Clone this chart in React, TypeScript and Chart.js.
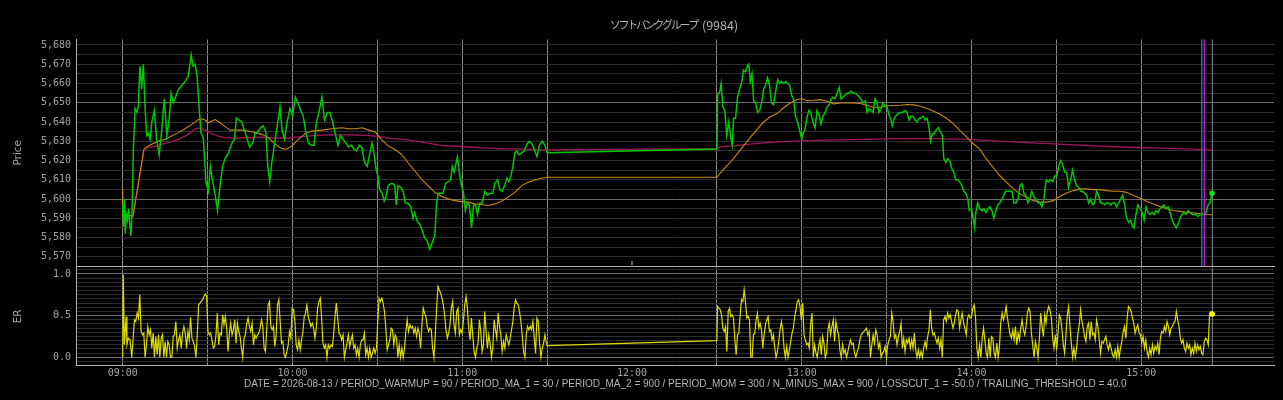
import { useEffect, useRef } from "react";
import { Chart, registerables } from "chart.js";

Chart.register(...registerables);

// ---------- text ----------
const TITLE_NAME = "ソフトバンクグループ";
const TITLE_CODE = " (9984)";
const FOOTER_TEXT =
  "DATE = 2026-08-13 / PERIOD_WARMUP = 90 / PERIOD_MA_1 = 30 / PERIOD_MA_2 = 900 / PERIOD_MOM = 300 / N_MINUS_MAX = 900 / LOSSCUT_1 = -50.0 / TRAILING_THRESHOLD = 40.0";
const PRICE_TITLE = "Price";
const ER_TITLE = "ER";

// ---------- axes (x = minutes after 09:00) ----------
const X_RANGE = [-16.5, 406.9];
const PRICE_RANGE = [5565.26, 5682.84];
const ER_RANGE = [-0.096, 1.078];
const HIDDEN_GRID_TIMES = [180, 390];
const LUNCH_TICK_T = 180;
const SESSION_END_T = 385.1;
const BLUE_SIGNAL_T = 381.35;
const MAGENTA_SIGNAL_T = 382.3;

// ---------- price [minute, yen] ----------
const PRICE_AM: [number, number][] = [
  [0, 5597], [0.3, 5586], [0.6, 5600], [0.9, 5582], [1.3, 5592], [1.7, 5589], [2.1, 5595], [2.5, 5587], [2.9, 5581], [3.3, 5593],
  [3.8, 5627], [4.4, 5647], [5.0, 5645], [5.5, 5648], [6.1, 5669], [6.7, 5657], [7.3, 5670], [7.9, 5648], [8.5, 5633], [9.1, 5634],
  [9.7, 5631], [10.3, 5640], [11.2, 5646], [12.0, 5631], [12.9, 5623], [13.8, 5636], [14.7, 5652], [15.6, 5633], [16.4, 5641], [17.1, 5655],
  [17.9, 5650], [18.7, 5653], [19.7, 5657], [20.9, 5659], [22.0, 5661], [23.2, 5664], [24.2, 5675], [24.9, 5669], [25.6, 5670], [26.3, 5664],
  [27.0, 5648], [27.7, 5634], [28.5, 5632], [29.4, 5609], [30.3, 5604], [31.0, 5617], [31.7, 5610], [32.7, 5602], [33.5, 5594], [34.4, 5607],
  [35.3, 5617], [36.2, 5621], [37.4, 5624], [38.6, 5629], [39.5, 5631], [40.2, 5642], [41.2, 5641], [42.1, 5640], [43.0, 5636], [44.0, 5631],
  [44.9, 5627], [45.9, 5629], [46.8, 5634], [47.8, 5635], [48.7, 5637], [49.6, 5638], [50.6, 5635], [51.3, 5617], [52.0, 5609], [52.7, 5619],
  [53.7, 5629], [54.6, 5638], [55.6, 5648], [56.3, 5636], [57.2, 5631], [58.1, 5640], [59.1, 5647], [60.1, 5643], [61.0, 5653], [62.0, 5650],
  [62.9, 5646], [63.8, 5643], [64.8, 5634], [65.7, 5629], [66.6, 5628], [67.6, 5628], [68.5, 5640], [69.5, 5646], [70.4, 5653], [71.3, 5641],
  [72.3, 5645], [73.2, 5645], [74.2, 5640], [75.1, 5634], [76.1, 5628], [77.0, 5633], [77.9, 5631], [78.9, 5629], [79.8, 5627], [80.8, 5628],
  [81.7, 5626], [82.7, 5625], [83.6, 5628], [84.5, 5627], [85.5, 5619], [86.4, 5617], [87.4, 5624], [88.1, 5629], [88.8, 5624], [89.5, 5616],
  [90.2, 5612], [90.8, 5605], [91.7, 5603], [92.4, 5599], [93.2, 5602], [93.8, 5607], [94.7, 5608], [95.5, 5608], [96.1, 5607], [96.7, 5597],
  [97.3, 5607], [98.3, 5606], [99.1, 5604], [99.9, 5598], [100.8, 5598], [101.8, 5596], [102.6, 5590], [103.2, 5593], [104.2, 5588], [105.0, 5587],
  [105.8, 5584], [106.7, 5580], [107.7, 5578], [108.5, 5574], [109.3, 5577], [110.3, 5581], [110.9, 5597], [111.5, 5603], [112.4, 5603], [113.2, 5603],
  [114.1, 5608], [115.0, 5609], [115.9, 5610], [116.5, 5617], [117.1, 5614], [117.6, 5617], [118.3, 5622], [119.0, 5614], [119.7, 5607], [120.4, 5604],
  [121.1, 5594], [121.8, 5598], [122.5, 5597], [123.3, 5585], [124.0, 5597], [124.7, 5597], [125.4, 5592], [126.2, 5598], [127.0, 5598], [128.0, 5604],
  [128.9, 5602], [129.8, 5603], [130.8, 5603], [131.5, 5608], [132.5, 5610], [133.3, 5605], [134.1, 5604], [135.0, 5607], [135.8, 5611], [136.5, 5609],
  [137.2, 5612], [137.9, 5617], [138.6, 5624], [139.3, 5625], [140.0, 5623], [141.0, 5624], [141.9, 5625], [142.7, 5628], [143.6, 5630], [144.5, 5629],
  [145.4, 5626], [146.4, 5622], [147.3, 5628], [148.3, 5630], [149.2, 5628], [150.0, 5624],
];
const PRICE_PM: [number, number][] = [
  [210, 5626], [210.3, 5655], [210.9, 5655], [211.5, 5660], [212.1, 5648], [212.8, 5646], [213.5, 5633], [214.2, 5640], [215.0, 5631], [215.4, 5628],
  [215.9, 5642], [216.6, 5642], [217.3, 5653], [218.0, 5657], [218.7, 5660], [219.4, 5667], [220.1, 5666], [220.8, 5669], [221.3, 5670], [221.8, 5661],
  [222.4, 5665], [223.0, 5651], [223.7, 5650], [224.4, 5645], [225.1, 5646], [225.8, 5650], [226.5, 5657], [227.2, 5659], [227.9, 5663], [228.6, 5659],
  [229.3, 5650], [230.0, 5649], [230.8, 5656], [231.5, 5662], [232.2, 5660], [232.9, 5661], [233.6, 5660], [234.3, 5661], [235.0, 5660], [235.7, 5659],
  [236.4, 5654], [237.1, 5652], [237.8, 5643], [238.5, 5640], [239.2, 5636], [240.0, 5631], [240.4, 5634], [241.1, 5636], [241.8, 5642], [242.5, 5646],
  [243.2, 5645], [243.9, 5640], [244.7, 5637], [245.4, 5646], [246.1, 5644], [246.8, 5639], [247.5, 5643], [248.3, 5645], [249.0, 5648], [249.7, 5649],
  [250.4, 5652], [251.1, 5653], [251.7, 5652], [252.5, 5655], [253.2, 5658], [253.9, 5652], [254.6, 5653], [255.3, 5654], [256.0, 5655], [256.7, 5655],
  [257.4, 5656], [258.2, 5655], [258.9, 5655], [259.6, 5654], [260.3, 5653], [260.9, 5652], [261.6, 5650], [262.4, 5651], [263.1, 5645], [263.8, 5647],
  [264.5, 5646], [265.2, 5645], [265.9, 5652], [266.6, 5650], [267.3, 5645], [268.0, 5647], [268.7, 5650], [269.4, 5648], [270.1, 5648], [270.8, 5644],
  [271.5, 5641], [272.0, 5638], [272.7, 5642], [273.7, 5644], [274.6, 5645], [275.6, 5645], [276.5, 5646], [277.2, 5645], [277.9, 5641], [278.6, 5643],
  [279.3, 5643], [280.0, 5641], [280.7, 5640], [281.5, 5642], [282.2, 5642], [282.9, 5643], [283.6, 5641], [284.3, 5642], [285.0, 5637], [285.5, 5630],
  [286.2, 5634], [286.9, 5634], [287.6, 5636], [288.3, 5637], [289.0, 5635], [289.7, 5633], [290.2, 5621], [290.9, 5619], [291.6, 5621], [292.3, 5620],
  [293.0, 5616], [293.7, 5614], [294.4, 5610], [295.1, 5610], [295.8, 5609], [296.6, 5607], [297.3, 5604], [298.0, 5603], [298.7, 5600], [299.2, 5594],
  [300.0, 5595], [300.6, 5590], [301.1, 5585], [301.5, 5593], [302.2, 5598], [302.9, 5595], [303.7, 5594], [304.4, 5595], [305.1, 5593], [305.8, 5595],
  [306.5, 5596], [307.2, 5594], [307.9, 5590], [308.6, 5594], [309.3, 5597], [310.0, 5598], [310.7, 5600], [311.4, 5602], [312.1, 5604], [312.9, 5604],
  [313.6, 5604], [314.3, 5604], [315.0, 5598], [315.7, 5598], [316.4, 5600], [317.1, 5607], [317.8, 5608], [318.5, 5603], [319.2, 5602], [319.9, 5598],
  [320.6, 5600], [321.3, 5604], [322.1, 5601], [322.8, 5600], [323.5, 5598], [324.2, 5598], [324.9, 5596], [325.6, 5600], [326.1, 5607], [326.5, 5610],
  [327.2, 5609], [327.9, 5610], [328.7, 5609], [329.4, 5612], [330.1, 5612], [330.8, 5617], [331.5, 5620], [332.2, 5618], [332.9, 5614], [333.6, 5614],
  [334.3, 5606], [335.0, 5610], [335.7, 5615], [336.4, 5610], [337.1, 5607], [337.9, 5606], [338.6, 5604], [339.3, 5604], [340.0, 5603], [340.7, 5602],
  [341.4, 5598], [342.1, 5600], [342.8, 5597], [343.5, 5598], [344.2, 5604], [344.9, 5602], [345.6, 5598], [346.3, 5598], [347.1, 5597], [347.8, 5598],
  [348.5, 5598], [349.2, 5597], [349.9, 5598], [350.6, 5598], [351.3, 5596], [352.0, 5598], [352.7, 5600], [353.4, 5602], [354.1, 5597], [354.8, 5590],
  [355.5, 5588], [356.2, 5589], [356.9, 5586], [357.4, 5585], [358.1, 5592], [358.8, 5597], [359.6, 5595], [360.3, 5593], [361.0, 5589], [361.7, 5596],
  [362.4, 5593], [363.1, 5592], [363.8, 5593], [364.5, 5592], [365.2, 5594], [365.9, 5593], [366.6, 5595], [367.3, 5596], [368.0, 5597], [368.8, 5595],
  [369.5, 5596], [370.2, 5593], [370.9, 5589], [371.6, 5587], [372.3, 5585], [373.0, 5587], [373.7, 5590], [374.4, 5592], [375.1, 5593], [375.8, 5592],
  [376.5, 5594], [377.2, 5593], [378.0, 5592], [378.7, 5592], [379.4, 5592], [380.1, 5591], [380.8, 5592], [381.5, 5592], [382.2, 5592], [382.9, 5593],
  [383.6, 5597], [384.3, 5598], [385.0, 5603],
];

// ---------- moving averages [minute, yen] ----------
const MA_ORANGE: [number, number][] = [
  [0, 5605.3], [0.2, 5590.5], [1.5, 5591.8], [3.6, 5591.2], [7.5, 5625.9], [9, 5627.6], [11.4, 5629.3], [12.6, 5630.2], [15, 5631.0], [17.3, 5632.7],
  [19.7, 5634.5], [22, 5636.5], [24.4, 5638.8], [26.8, 5641.3], [27.7, 5641.7], [29.1, 5641.0], [30.3, 5639.6], [31.5, 5640.5], [32.7, 5641.3], [34.4, 5639.6],
  [36.2, 5637.6], [38, 5635.8], [42.1, 5635.8], [44.5, 5635.3], [46.8, 5634.5], [49.2, 5633.6], [51.5, 5631.9], [53.9, 5628.5], [56.3, 5626.2], [58, 5625.9],
  [59.8, 5627.6], [62.1, 5631.0], [64.5, 5634.1], [66.9, 5635.3], [70.4, 5635.8], [73.9, 5636.5], [77.5, 5637.0], [79.8, 5636.5], [82.2, 5636.5], [84.6, 5637.0],
  [87, 5635.8], [89.3, 5634.8], [91.4, 5631.0], [93.8, 5627.6], [96.1, 5625.9], [98.5, 5623.3], [100.8, 5619.0], [103.2, 5614.7], [105.6, 5610.4], [107.9, 5607.0],
  [110.3, 5603.5], [112.6, 5601.5], [115, 5600.1], [117.4, 5599.2], [119.7, 5598.7], [122.1, 5598.4], [124.4, 5597.5], [126.8, 5597.2], [129.2, 5596.7], [131.5, 5597.5],
  [133.9, 5598.9], [136.2, 5601.0], [138.6, 5603.5], [141, 5607.0], [143.4, 5608.7], [145.7, 5609.9], [148.1, 5610.8], [150, 5611.3], [210, 5611.3], [212.4, 5615.6],
  [214.7, 5619.0], [217.1, 5623.3], [219.4, 5627.6], [221.8, 5631.9], [224.2, 5636.2], [226.5, 5640.0], [228.9, 5642.7], [231.2, 5644.4], [233.6, 5647.4], [235.9, 5649.9],
  [238.2, 5651.6], [240, 5652.2], [241.8, 5651.1], [244.2, 5651.3], [246.5, 5651.6], [248.9, 5650.8], [251.3, 5649.4], [253.6, 5649.9], [258.4, 5649.9], [260.7, 5649.6],
  [263.1, 5648.6], [265.4, 5647.7], [267.8, 5647.7], [270.1, 5648.6], [274.9, 5648.7], [277.2, 5649.1], [279.6, 5648.9], [281.9, 5648.2], [284.3, 5647.0], [286.7, 5645.6],
  [289, 5643.9], [291.4, 5641.7], [293.8, 5638.8], [296.1, 5635.3], [298.5, 5631.9], [300, 5629.5], [302.9, 5625.9], [305.3, 5620.7], [307.7, 5616.4], [310, 5612.1],
  [312.4, 5608.7], [314.8, 5605.3], [317.1, 5602.7], [319.5, 5601.0], [321.8, 5599.2], [324.2, 5598.4], [326.5, 5598.4], [328.9, 5599.2], [331.3, 5601.5], [333.6, 5603.2],
  [336, 5604.4], [338.3, 5605.3], [340.7, 5605.3], [343, 5604.9], [345.4, 5604.9], [347.8, 5604.4], [350.1, 5604.1], [352.5, 5604.1], [354.8, 5603.5], [357.2, 5601.8],
  [359.6, 5600.4], [361.9, 5598.9], [364.3, 5597.5], [366.6, 5596.2], [369, 5595.0], [371.3, 5594.1], [373.7, 5593.6], [376.1, 5593.2], [378.4, 5592.9], [380.8, 5592.4],
  [383.1, 5592.0], [385, 5591.9],
];
const MA_MAGENTA: [number, number][] = [
  [0, 5586.4], [0.5, 5589.8], [3.6, 5590.2], [7.5, 5625.2], [9, 5626.7], [12.6, 5627.9], [16.2, 5629.3], [19.7, 5631.0], [23.2, 5633.6], [25.6, 5636.5],
  [27.4, 5637.0], [29.1, 5635.8], [31.5, 5634.0], [33.8, 5632.7], [36.2, 5631.9], [39.7, 5631.7], [44.5, 5631.9], [49.2, 5632.1], [53.9, 5631.7], [58.6, 5631.7],
  [63.3, 5632.4], [68, 5633.1], [73.9, 5633.3], [79.8, 5633.3], [85.7, 5633.1], [89.3, 5632.7], [95, 5631.5], [100.8, 5630.7], [106.7, 5629.3], [112.6, 5627.9],
  [119.7, 5627.3], [126.8, 5626.6], [133.9, 5626.2], [141, 5625.9], [150, 5625.5], [210, 5626.2], [211.2, 5627.1], [215.9, 5627.6], [221.8, 5628.5], [227.7, 5629.3],
  [233.6, 5629.8], [239.5, 5630.2], [251.3, 5630.7], [263.1, 5631.0], [274.9, 5631.4], [286.7, 5631.4], [299.4, 5631.0], [307.7, 5630.2], [319.5, 5629.3], [331.3, 5628.5],
  [343, 5627.6], [354.8, 5626.9], [366.6, 5626.4], [378.4, 5625.9], [385, 5625.4],
];

// ---------- efficiency ratio ----------
const ER_AM_HEAD: [number, number][] = [[0, 0], [0.2, 0.99], [0.6, 0.15], [1.2, 0.49], [1.5, 0.15], [2.0, 0.23], [2.6, 0.21]];
const ER_AM_START = 3.2;
const ER_AM_STEP = 0.4726;
const ER_AM: number[] = [
  0, .21, .45, .43, .53, .47, .75, .31, .27, .29,
  0, .15, .37, .27, .33, .11, .29, 0, .25, .03,
  .27, 0, .23, .27, 0, .19, 0, .19, .15, 0,
  0, .25, .27, .43, .11, .21, .27, .11, .29, .37,
  .29, .11, .31, .21, .48, .23, .19, .13, 0, .27,
  .63, .65, .67, .69, .73, .76, .73, .31, .27, .29,
  .21, .11, .13, .27, .53, .15, .29, .27, .51, .39,
  .49, .35, .07, .29, .41, .27, .33, .45, .17, .41,
  .31, .25, .11, 0, .23, .27, .41, .47, .37, .31,
  .41, .15, .27, .23, .27, .29, .35, .45, .37, .11,
  .07, .35, .63, .67, .37, .33, .37, .13, .27, .63,
  .69, .43, .17, .19, .03, 0, .07, .15, .31, .23,
  .59, .57, .43, .15, .09, .21, .09, .21, .31, .49,
  .53, .63, .49, .43, .37, .41, .35, .23, .35, .59,
  .67, .71, .47, .17, .11, .15, 0, .15, .11, .15,
  .13, .27, .49, .65, .47, .29, .27, .21, .27, 0,
  .09, .17, .27, .13, .21, .27, .11, .15, .03, .11,
  0, .15, .21, .21, .29, .03, .11, 0, .11, 0,
  .05, .11, .05, .11, .43, .71, .67, .71, .65, .55,
  .35, .09, .15, .21, .35, .33, .15, .27, .23, 0,
  .15, 0, .11, 0, .11, .31, .45, .31, .39, .35,
  .37, .29, .35, .25, .35, .29, .11, .39, .59, .53,
  .49, .37, .31, .35, .33, .11, 0, .27, .59, .85,
  .81, .77, .71, .63, .51, .33, .23, .29, .39, .59,
  .67, .39, .29, .55, .59, .27, .33, .29, .43, .63,
  .73, .59, .35, .21, .47, .27, .07, 0, .11, .17,
  .45, .31, .07, .15, .55, .31, .11, .27, .17, 0,
  .11, .45, .33, .23, .53, .37, .27, .07, .19, .11,
  .27, .21, .15, .23, .33, .43, .59, .69, .65, .63,
  .55, .43, .27, .07, 0, .27, .37, .33, .37, .33,
  .43, .23, .05, .47, .43, .17, 0, .11, .17, .27,
  .17,
];
const ER_AM_END: [number, number] = [150, 0.14];
const ER_PM_HEAD: [number, number] = [210, 0.2];
const ER_PM_START = 210.24;
const ER_PM_STEP = 0.47;
const ER_PM: number[] = [
  .61, .59, .57, .51, .35, .31, .37, .07, .55, .59,
  .49, .51, .47, .21, .03, .27, .29, .51, .69, .67,
  .81, .67, .47, .49, .45, 0, 0, .27, .29, .45,
  .53, .35, .41, .33, .11, .27, .39, .45, .49, .31,
  .33, .21, .27, .11, 0, .07, .19, .33, .43, .33,
  .11, 0, .13, 0, .09, .19, .29, .35, .49, .57,
  .67, .69, .61, .45, .65, .27, .21, .15, .17, .11,
  .41, .53, 0, .15, .05, 0, .13, .21, .03, .25,
  .17, 0, .05, .33, .41, .27, .37, .45, .19, .43,
  .33, .27, .09, 0, .15, .05, .09, 0, .07, .15,
  .21, .15, .17, .05, 0, .07, .11, .21, .27, .29,
  .31, .33, .35, .27, .31, 0, .15, .27, .17, .33,
  .27, .11, .17, 0, .05, .07, .13, 0, .15, .21,
  .25, .53, .43, .23, .27, .15, .25, .31, .41, .11,
  .23, .07, .21, .17, .23, .11, .21, .11, .29, .09,
  0, .09, 0, .07, 0, .11, .19, .11, .25, .33,
  .57, .35, .27, .29, .23, .17, .23, .11, .21, 0,
  .45, .49, .43, .53, .47, .51, .43, .35, .41, .51,
  .57, .55, .35, .45, .53, .41, .35, .27, .47, .51,
  .47, .49, .59, .63, .47, .11, 0, .15, 0, .23,
  .35, .21, .05, 0, .23, 0, .25, .23, .05, 0,
  .17, 0, .13, .43, .53, .45, .51, .61, .47, .37,
  .27, .23, .33, .21, .37, .15, .29, .21, .35, .45,
  .33, .27, .37, .53, .59, .55, .29, .15, 0, .19,
  .11, 0, .23, .53, .37, .25, .51, .41, .55, .61,
  .57, .47, .23, .11, .27, .09, .29, .51, .47, .33,
  .15, .05, .27, .51, .61, .37, .17, 0, .11, 0,
  .11, .29, .39, .57, .43, .35, .25, .19, .37, .41,
  .21, .43, .27, .29, .21, .45, .37, .21, .05, .19,
  .17, .21, .25, .15, .09, .17, .11, .03, 0, .09,
  0, .13, 0, .11, .19, .31, .37, .23, .47, .61,
  .59, .55, .47, .41, .29, .35, .39, .29, .27, .17,
  .25, .11, .21, .07, 0, .11, .03, .15, .05, .13,
  .09, .17, .03, .23, .31, .29, .37, .31, .43, .37,
  .27, .35, .37, .41, .43, .55, .45, .37, .23, .17,
  .21, .11, .07, .17, .11, .15, .03, .11, .05, .17,
  .07, .15, .09, .13, .05, .03, .19, .23, .21, .15,
  .53, .55, .52,
];

// ---------- style ----------
const SANS = "'Liberation Sans', Arial, sans-serif";
const AXIS_TITLE_FONT = "'DejaVu Sans', sans-serif";
const MONO = "'DejaVu Sans Mono', monospace";
const CJK = "'Noto Sans CJK JP', sans-serif";
const C_GREEN = "#00c800";
const C_ORANGE = "#c98a0c";
const C_MAGENTA = "#a3145f";
const C_YELLOW = "#dcdc00";
const C_BLUE_SIG = "#1f6fa6";
const C_MAG_SIG = "#c61cc6";
const C_VGRID = "#8c8c8c";
const C_HGRID_MAJOR = "#6c6c6c";
const C_HGRID_MINOR = "#2e2e2e";
const C_SPINE = "#b0b0b0";
const C_TICK = "#a4a4a4";
const C_TEXT = "#b4b4b4";
const CLEAR = "rgba(0,0,0,0)";
const KANA_SPACING = 2.3;

const toXY = (arr: [number, number][]) => arr.map(([x, y]) => ({ x, y }));

function xGridColor(c: any) {
  const v = c.tick ? c.tick.value : 0;
  return HIDDEN_GRID_TIMES.some((h) => Math.abs(h - v) < 1e-6) ? CLEAR : C_VGRID;
}
function timeLabel(v: any) {
  const n = Number(v);
  if (Math.abs(n % 60) > 1e-6) return "";
  const h = 9 + Math.round(n / 60);
  return `${String(h).padStart(2, "0")}:00`;
}
function zeroPad(s: any) {
  s.paddingLeft = 0;
  s.paddingRight = 0;
  s.paddingTop = 0;
  s.paddingBottom = 0;
}
function vline(ctx: CanvasRenderingContext2D, x: number, y1: number, y2: number) {
  ctx.beginPath();
  ctx.moveTo(x, y1);
  ctx.lineTo(x, y2);
  ctx.stroke();
}

export default function App() {
  const topRef = useRef<HTMLCanvasElement>(null);
  const erRef = useRef<HTMLCanvasElement>(null);

  useEffect(() => {
    const price = [...toXY(PRICE_AM), ...toXY(PRICE_PM)];
    const er = [
      ...toXY(ER_AM_HEAD),
      ...ER_AM.map((y, i) => ({ x: ER_AM_START + i * ER_AM_STEP, y })),
      { x: ER_AM_END[0], y: ER_AM_END[1] },
      { x: ER_PM_HEAD[0], y: ER_PM_HEAD[1] },
      ...ER_PM.map((y, i) => ({ x: ER_PM_START + i * ER_PM_STEP, y })),
    ];

    const topDecor = {
      id: "topDecor",
      beforeDatasetsDraw(chart: any) {
        const { ctx, chartArea: a, scales } = chart;
        ctx.save();
        ctx.strokeStyle = C_VGRID;
        ctx.lineWidth = 1;
        const xe = scales.x.getPixelForValue(SESSION_END_T);
        vline(ctx, xe, a.top, a.bottom);
        ctx.strokeStyle = "#d0d0d0";
        const xt = scales.x.getPixelForValue(LUNCH_TICK_T);
        vline(ctx, xt, a.bottom - 5, a.bottom - 1);
        ctx.restore();
      },
      afterDatasetsDraw(chart: any) {
        const { ctx, chartArea: a, scales } = chart;
        ctx.save();
        ctx.lineWidth = 1.5;
        ctx.strokeStyle = C_BLUE_SIG;
        vline(ctx, scales.x.getPixelForValue(BLUE_SIGNAL_T), a.top, a.bottom);
        ctx.strokeStyle = C_MAG_SIG;
        vline(ctx, scales.x.getPixelForValue(MAGENTA_SIGNAL_T), a.top, a.bottom);
        ctx.restore();
      },
      afterDraw(chart: any) {
        const { ctx } = chart;
        ctx.save();
        ctx.fillStyle = C_TEXT;
        ctx.textBaseline = "middle";
        ctx.textAlign = "left";
        ctx.font = `11px ${CJK}`;
        (ctx as any).letterSpacing = `-${KANA_SPACING}px`;
        const w1 = ctx.measureText(TITLE_NAME).width + KANA_SPACING;
        const part1Font = ctx.font;
        (ctx as any).letterSpacing = "0px";
        ctx.font = `12.5px ${CJK}`;
        const w2 = ctx.measureText(TITLE_CODE).width;
        const x0 = 674 - (w1 + w2) / 2;
        ctx.fillText(TITLE_CODE, x0 + w1, 25);
        ctx.font = part1Font;
        (ctx as any).letterSpacing = `-${KANA_SPACING}px`;
        ctx.fillText(TITLE_NAME, x0, 25);
        ctx.restore();
      },
    };

    const erDecor = {
      id: "erDecor",
      beforeDatasetsDraw(chart: any) {
        const { ctx, chartArea: a, scales } = chart;
        ctx.save();
        ctx.strokeStyle = C_VGRID;
        ctx.lineWidth = 1;
        vline(ctx, scales.x.getPixelForValue(SESSION_END_T), a.top, a.bottom);
        ctx.restore();
      },
      afterDraw(chart: any) {
        const { ctx } = chart;
        ctx.save();
        ctx.fillStyle = C_TEXT;
        ctx.font = `10px ${SANS}`;
        ctx.textBaseline = "middle";
        ctx.textAlign = "left";
        ctx.fillText(FOOTER_TEXT, 244, 122.7);
        ctx.restore();
      },
    };

    const tickFont = { family: MONO, size: 10 };
    const titleFont = { family: AXIS_TITLE_FONT, size: 10.5 };

    const topChart = new Chart(topRef.current as HTMLCanvasElement, {
      type: "line",
      data: {
        datasets: [
          {
            label: "Price",
            data: price,
            borderColor: C_GREEN,
            borderWidth: 1.5,
            pointRadius: (c: any) => (c.dataIndex === price.length - 1 ? 2.8 : 0),
            pointBackgroundColor: "#10e010",
            pointBorderWidth: 0,
            tension: 0,
          },
          {
            label: "MA1",
            data: toXY(MA_ORANGE),
            borderColor: C_ORANGE,
            borderWidth: 1.1,
            pointRadius: 0,
            tension: 0,
          },
          {
            label: "MA2",
            data: toXY(MA_MAGENTA),
            borderColor: C_MAGENTA,
            borderWidth: 1.3,
            pointRadius: 0,
            tension: 0,
          },
        ],
      },
      options: {
        animation: false,
        responsive: false,
        maintainAspectRatio: false,
        events: [],
        layout: { padding: { top: 39.5, right: 9, bottom: 2.5, left: 0 } },
        plugins: { legend: { display: false }, tooltip: { enabled: false }, title: { display: false } },
        scales: {
          x: {
            type: "linear",
            min: X_RANGE[0],
            max: X_RANGE[1],
            ticks: { stepSize: 30, display: false, includeBounds: false, autoSkip: false },
            grid: { color: xGridColor, drawTicks: false, lineWidth: 1 },
            border: { display: true, color: C_SPINE, width: 1 },
            afterFit: (s: any) => {
              s.height = 0;
              zeroPad(s);
            },
          },
          y: {
            type: "linear",
            min: PRICE_RANGE[0],
            max: PRICE_RANGE[1],
            ticks: {
              stepSize: 5,
              includeBounds: false,
              autoSkip: false,
              padding: 5,
              color: C_TICK,
              font: tickFont,
              callback: (v: any) => {
                const n = Number(v);
                return Math.abs(n % 10) < 1e-6 ? n.toLocaleString("en-US") : "";
              },
            },
            grid: {
              drawTicks: false,
              color: (c: any) => (c.tick && Math.abs(c.tick.value % 50) < 1e-6 ? C_HGRID_MAJOR : C_HGRID_MINOR),
            },
            border: { display: true, color: C_SPINE, width: 1 },
            title: { display: true, text: PRICE_TITLE, color: C_TICK, font: titleFont, padding: { top: 11.7, bottom: 0 } },
            afterFit: (s: any) => {
              s.width = 76;
              zeroPad(s);
            },
          },
        },
      },
      plugins: [topDecor],
    } as any);

    const erChart = new Chart(erRef.current as HTMLCanvasElement, {
      type: "line",
      data: {
        datasets: [
          {
            label: "ER",
            data: er,
            borderColor: C_YELLOW,
            borderWidth: 1.2,
            pointRadius: (c: any) => (c.dataIndex === er.length - 1 ? 2.8 : 0),
            pointBackgroundColor: "#f0f000",
            pointBorderWidth: 0,
            tension: 0,
          },
        ],
      },
      options: {
        animation: false,
        responsive: false,
        maintainAspectRatio: false,
        events: [],
        layout: { padding: { top: 5.5, right: 9, bottom: 0, left: 0 } },
        plugins: { legend: { display: false }, tooltip: { enabled: false }, title: { display: false } },
        scales: {
          x: {
            type: "linear",
            min: X_RANGE[0],
            max: X_RANGE[1],
            ticks: {
              stepSize: 30,
              includeBounds: false,
              autoSkip: false,
              maxRotation: 0,
              padding: 2,
              color: C_TICK,
              font: tickFont,
              callback: timeLabel,
            },
            grid: { color: xGridColor, drawTicks: false, lineWidth: 1 },
            border: { display: true, color: C_SPINE, width: 1 },
            afterFit: (s: any) => {
              s.height = 34.7;
              zeroPad(s);
            },
          },
          y: {
            type: "linear",
            min: ER_RANGE[0],
            max: ER_RANGE[1],
            ticks: {
              stepSize: 0.05,
              includeBounds: false,
              autoSkip: false,
              padding: 5,
              color: C_TICK,
              font: tickFont,
              callback: (v: any) => {
                const n = Number(v);
                return Math.abs(n * 2 - Math.round(n * 2)) < 1e-6 ? n.toFixed(1) : "";
              },
            },
            grid: {
              drawTicks: false,
              color: (c: any) => {
                const n = c.tick ? c.tick.value : 0.1;
                return Math.abs(n * 2 - Math.round(n * 2)) < 1e-6 ? C_HGRID_MAJOR : C_HGRID_MINOR;
              },
            },
            border: { display: true, color: C_SPINE, width: 1 },
            title: { display: true, text: ER_TITLE, color: C_TICK, font: titleFont, padding: { top: 11.7, bottom: 0 } },
            afterFit: (s: any) => {
              s.width = 76;
              zeroPad(s);
            },
          },
        },
      },
      plugins: [erDecor],
    } as any);

    return () => {
      topChart.destroy();
      erChart.destroy();
    };
  }, []);

  return (
    <div style={{ position: "fixed", left: 0, top: 0, width: 1283, height: 400, background: "#000", overflow: "hidden" }}>
      <canvas
        ref={topRef}
        width={1283}
        height={270}
        style={{ position: "absolute", left: 0, top: 0, width: 1283, height: 270, display: "block" }}
      />
      <canvas
        ref={erRef}
        width={1283}
        height={138}
        style={{ position: "absolute", left: 0, top: 262, width: 1283, height: 138, display: "block" }}
      />
    </div>
  );
}
